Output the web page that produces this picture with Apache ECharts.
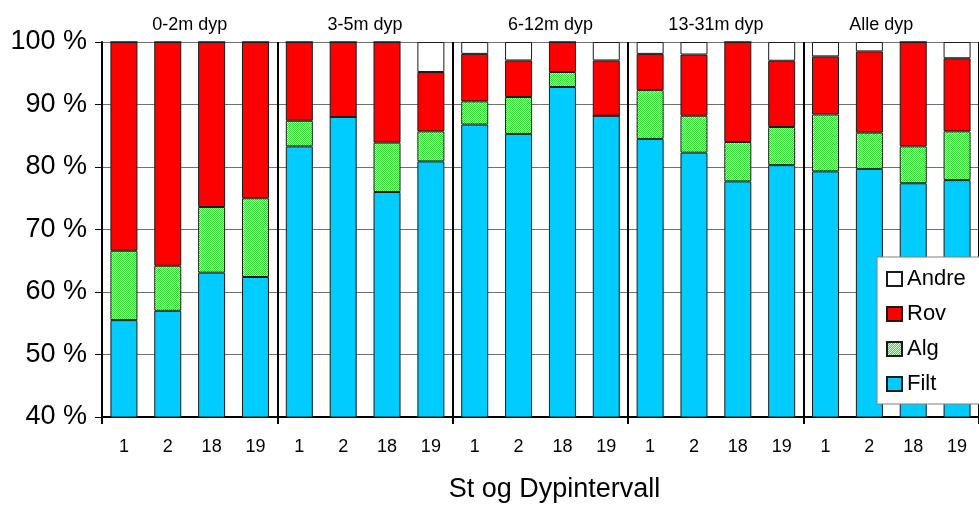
<!DOCTYPE html>
<html>
<head>
<meta charset="utf-8">
<script src="https://cdn.jsdelivr.net/npm/echarts@6/dist/echarts.min.js"></script>
<style>
html,body{margin:0;padding:0;background:#fff;}
#chart{width:979px;height:508px;}
</style>
</head>
<body>
<div id="chart"></div>
<script>
// ---- data ----
const groups = ['0-2m dyp', '3-5m dyp', '6-12m dyp', '13-31m dyp', 'Alle dyp'];
const stations = ['1', '2', '18', '19'];
const filt  = [55.5, 57.0, 63.1, 62.4,  83.3, 88.0, 76.0, 80.9,  86.8, 85.3, 92.8, 88.2,  84.5, 82.3, 77.7, 80.3,  79.3, 79.7, 77.4, 77.9];
const alg   = [11.1,  7.2, 10.5, 12.6,   4.1,  0.0,  7.9,  4.8,   3.7,  5.9,  2.4,  0.0,   7.8,  5.9,  6.3,  6.1,   9.1,  5.8,  5.9,  7.8];
const rov   = [33.4, 35.8, 26.4, 25.0,  12.6, 12.0, 16.1,  9.5,   7.6, 5.85,  4.8, 8.85,   5.8,  9.8, 16.0, 10.6,   9.3, 13.0, 16.7, 11.7];
const andre = [ 0.0,  0.0,  0.0,  0.0,   0.0,  0.0,  0.0,  4.8,   1.9, 2.95,  0.0, 2.95,   1.9,  2.0,  0.0,  3.0,   2.3,  1.5,  0.0,  2.6];
const yTicks = [40, 50, 60, 70, 80, 90, 100];

// category keys (unique) built from groups x stations
const categories = [];
groups.forEach((g, gi) => stations.forEach(s => categories.push(gi + '|' + s)));

// hatched green pattern for "Alg"
const pc = document.createElement('canvas');
pc.width = 4; pc.height = 4;
const pctx = pc.getContext('2d');
const G = '#2fe82f', W = '#ffffff', L = '#9cff9c';
const pat = [[G, W, G, L], [W, G, L, G], [G, L, G, W], [L, G, W, G]];
for (let y = 0; y < 4; y++) for (let x = 0; x < 4; x++) { pctx.fillStyle = pat[y][x]; pctx.fillRect(x, y, 1, 1); }

const FONT = 'Liberation Sans, Arial, sans-serif';
const border = { borderColor: '#1a1a1a', borderWidth: 1 };

const chart = echarts.init(document.getElementById('chart'), null, { renderer: 'canvas' });
const mk = (name, data, color) => ({
  name, type: 'bar', stack: 'all', data, barWidth: 27,
  itemStyle: Object.assign({ color }, border),
  emphasis: { disabled: true }, animation: false
});

chart.setOption({
  animation: false,
  backgroundColor: '#fff',
  grid: { left: 102, top: 42, width: 883, height: 380, containLabel: false },
  legend: {
    orient: 'vertical', left: 877, top: 257,
    data: ['Andre', 'Rov', 'Alg', 'Filt'],
    itemWidth: 15, itemHeight: 14, itemGap: 13,
    padding: [11, 30, 9, 9],
    backgroundColor: '#fff', borderColor: '#808080', borderWidth: 1,
    textStyle: { fontFamily: FONT, fontSize: 22, color: '#000' },
    icon: 'rect', selectedMode: false
  },
  xAxis: [{
    type: 'category', data: categories, position: 'bottom',
    axisLine: { show: true, lineStyle: { color: '#000', width: 2 } },
    axisTick: { show: true, length: 7, lineStyle: { color: '#000', width: 2 }, interval: (i) => i % 4 === 0 },
    axisLabel: { interval: 0, margin: 21, fontFamily: FONT, fontSize: 18, color: '#000', formatter: v => v.split('|')[1] },
    name: 'St og Dypintervall', nameLocation: 'middle', nameGap: 59,
    nameTextStyle: { fontFamily: FONT, fontSize: 27, color: '#000', padding: [0, 0, 0, 28] }
  }, {
    type: 'category', data: groups, position: 'top',
    axisLine: { show: false }, axisTick: { show: false },
    axisLabel: {
      interval: 0, margin: 8, fontFamily: FONT, fontSize: 18, color: '#000',
      formatter: (v, i) => i === 2 ? '{r|' + v + '}' : (i === 4 ? '{l|' + v + '}' : v),
      rich: { r: { fontFamily: FONT, fontSize: 18, padding: [0, 0, 0, 20] }, l: { fontFamily: FONT, fontSize: 18, padding: [0, 20, 0, 0] } }
    },
    splitLine: { show: true, interval: 0, lineStyle: { color: '#000', width: 2 } }
  }],
  yAxis: {
    type: 'value', min: yTicks[0], max: yTicks[yTicks.length - 1], interval: 10,
    axisLine: { show: true, lineStyle: { color: '#000', width: 2 } },
    axisTick: { show: true, length: 7, lineStyle: { color: '#000', width: 1 } },
    axisLabel: { margin: 15, fontFamily: FONT, fontSize: 27, color: '#000', formatter: '{value} %' },
    splitLine: { show: true, lineStyle: { color: '#707070', width: 1 } }
  },
  series: [
    mk('Filt', filt, '#00ccff'),
    mk('Alg', alg, { image: pc, repeat: 'repeat' }),
    mk('Rov', rov, '#ff0000'),
    mk('Andre', andre, '#ffffff')
  ]
});
</script>
</body>
</html>
